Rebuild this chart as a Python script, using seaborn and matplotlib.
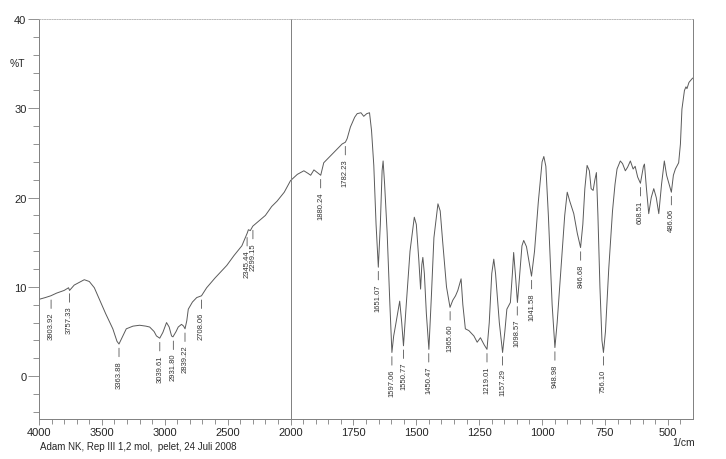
import numpy as np
import pandas as pd
import matplotlib
matplotlib.use("Agg")
import matplotlib.pyplot as plt
from matplotlib.ticker import FixedLocator
import seaborn as sns

# wavenumber (1/cm) and transmittance (%T)
wavenumber = [
    4000, 3950, 3906, 3860, 3800, 3765, 3757, 3720, 3680, 3640, 3600, 3560,
    3520, 3470, 3413, 3380, 3364, 3340, 3306, 3253, 3200, 3150, 3120, 3085,
    3066, 3040, 3015, 2986, 2965, 2946, 2935, 2910, 2893, 2867, 2850, 2839,
    2825, 2813, 2780, 2746, 2708, 2667, 2600, 2507, 2450, 2387, 2360, 2345,
    2335, 2320, 2300, 2250, 2200, 2150, 2107, 2050, 2000, 1973, 1947, 1930,
    1920, 1907, 1880, 1868, 1840, 1815, 1795, 1782, 1775, 1762, 1745, 1735,
    1720, 1709, 1697, 1686, 1678, 1669, 1660, 1651, 1643, 1636, 1632, 1626,
    1616, 1605, 1597, 1590, 1583, 1566, 1558, 1551, 1540, 1525, 1508, 1500,
    1490, 1483, 1478, 1474, 1468, 1460, 1450, 1440, 1430, 1414, 1405, 1395,
    1380, 1366, 1355, 1344, 1335, 1322, 1315, 1305, 1291, 1271, 1258, 1245,
    1230, 1219, 1210, 1200, 1192, 1185, 1170, 1157, 1148, 1140, 1126, 1118,
    1113, 1105, 1098, 1090, 1080, 1073, 1062, 1050, 1042, 1030, 1015, 1000,
    993, 985, 975, 960, 949, 940, 925, 910, 900, 890, 874, 860,
    847, 838, 830, 821, 812, 805, 797, 790, 784, 778, 770, 762,
    756, 748, 735, 720, 710, 702, 689, 680, 669, 660, 649, 638,
    630, 620, 609, 597, 593, 585, 576, 566, 556, 546, 536, 525,
    514, 505, 486, 478, 470, 457, 450, 444, 434, 428, 424, 416,
    410, 404, 400,
]
transmittance = [
    8.6, 8.8, 9.0, 9.3, 9.6, 9.9, 9.6, 10.2, 10.5, 10.8, 10.6, 9.9,
    8.6, 7.0, 5.3, 3.9, 3.6, 4.3, 5.3, 5.6, 5.7, 5.6, 5.5, 5.0,
    4.5, 4.25, 4.9, 6.0, 5.5, 4.5, 4.4, 5.0, 5.5, 5.8, 5.6, 5.3,
    6.2, 7.5, 8.3, 8.8, 9.0, 9.9, 11.0, 12.4, 13.5, 14.6, 15.5, 16.0,
    16.4, 16.3, 16.8, 17.4, 18.0, 19.0, 19.6, 20.6, 21.9, 22.6, 23.0, 22.7,
    22.5, 23.1, 22.5, 23.9, 24.7, 25.4, 26.0, 26.2, 26.6, 27.9, 29.0, 29.4,
    29.5, 29.1, 29.4, 29.5, 27.5, 23.6, 17.0, 12.2, 17.0, 23.0, 24.1, 21.5,
    16.1, 8.0, 2.65, 4.5, 5.6, 8.4, 6.0, 3.4, 8.0, 14.0, 17.8, 17.0,
    13.0, 9.75, 12.5, 13.3, 11.5, 7.0, 3.0, 9.0, 15.5, 19.3, 18.5, 15.0,
    10.0, 7.7, 8.5, 9.0, 9.6, 10.9, 8.0, 5.3, 5.1, 4.5, 3.8, 4.3,
    3.5, 3.0, 6.0, 11.5, 13.1, 11.5, 6.0, 2.65, 5.0, 7.5, 8.25, 11.5,
    13.85, 11.0, 8.25, 11.0, 14.6, 15.2, 14.5, 12.5, 11.2, 14.0, 19.5, 24.0,
    24.6, 23.5, 18.0, 8.0, 3.2, 6.0, 12.0, 18.0, 20.6, 19.6, 18.2, 16.0,
    14.4, 17.0, 21.0, 23.6, 23.0, 21.0, 20.8, 22.0, 22.8, 18.0, 10.0, 4.0,
    2.65, 5.0, 12.0, 18.5, 21.5, 23.2, 24.1, 23.8, 23.0, 23.4, 24.1, 23.2,
    23.5, 22.3, 21.6, 23.5, 23.75, 21.0, 18.2, 20.0, 21.0, 20.0, 18.2, 21.5,
    24.1, 22.5, 20.6, 22.5, 23.2, 23.9, 26.0, 29.9, 32.0, 32.4, 32.2, 32.9,
    33.1, 33.3, 33.4,
]

# labelled peaks
peak_labels = [
    "3903.92", "3757.33", "3363.88", "3039.61", "2931.80", "2839.22",
    "2708.06", "2345.44", "2299.15", "1880.24", "1782.23", "1651.07",
    "1597.06", "1550.77", "1450.47", "1365.60", "1219.01", "1157.29",
    "1098.57", "1041.58", "948.98", "846.68", "756.10", "608.51", "486.06",
]
peak_t = [
    9.0, 9.7, 3.6, 4.25, 4.4, 5.3,
    9.0, 16.0, 16.8, 22.5, 26.2, 12.2,
    2.65, 3.4, 3.0, 7.7, 3.0, 2.65,
    8.25, 11.2, 3.2, 14.4, 2.65, 21.6, 20.6,
]

x_ticks = [4000, 3500, 3000, 2500, 2000, 1750, 1500, 1250, 1000, 750, 500]
y_ticks = [0, 10, 20, 30, 40]

df = pd.DataFrame({"wn": wavenumber, "T": transmittance})

sns.set_style("ticks")
plt.rcParams["font.family"] = ["Liberation Sans", "DejaVu Sans"]

line_col = "#5a5a5a"
axis_col = "#808080"

fig = plt.figure(figsize=(7.26, 4.6), dpi=100)
ax = fig.add_axes([39 / 726, 1 - 420 / 460, (693 - 39) / 726, 400 / 460])


# the scan uses half scale above 2000 1/cm
def fwd(w):
    w = np.asarray(w, dtype=float)
    return np.where(w > 2000, 2000 + (w - 2000) / 2, w)


def inv(u):
    u = np.asarray(u, dtype=float)
    return np.where(u > 2000, 2000 + (u - 2000) * 2, u)


ax.set_xscale("function", functions=(fwd, inv))

sns.lineplot(data=df, x="wn", y="T", ax=ax, color=line_col, lw=0.7,
             estimator=None, sort=False)

ax.set_xlim(4000, 400)
ax.set_ylim(-4.8, 40)

ax.xaxis.set_major_locator(FixedLocator(x_ticks))
minor_x = [v for v in list(np.arange(3900, 2000, -100)) + list(np.arange(1950, 400, -50))
           if v not in x_ticks]
ax.xaxis.set_minor_locator(FixedLocator(minor_x))
ax.set_xticklabels([str(v) for v in x_ticks])
ax.yaxis.set_major_locator(FixedLocator(y_ticks))
ax.yaxis.set_minor_locator(FixedLocator([v for v in np.arange(-4, 40, 2) if v % 10 != 0]))

ax.tick_params(axis="x", which="major", length=4.5, width=0.6, color=axis_col,
               labelsize=8, pad=1)
ax.tick_params(axis="x", which="minor", length=3.5, width=0.6, color=axis_col)
ax.tick_params(axis="y", which="major", length=8, width=0.6, color=axis_col,
               labelsize=8, pad=1)
ax.tick_params(axis="y", which="minor", length=4, width=0.6, color=axis_col)

for s in ["left", "bottom", "right"]:
    ax.spines[s].set_color(axis_col)
    ax.spines[s].set_linewidth(0.7)
ax.spines["top"].set_color("#b0b0b0")
ax.spines["top"].set_linewidth(0.6)
ax.spines["top"].set_linestyle((0, (1.5, 1.5)))

ax.axvline(2000, color=axis_col, lw=0.7)
ax.set_xlabel("")
ax.set_ylabel("")

for lbl, t in zip(peak_labels, peak_t):
    ax.annotate(lbl, xy=(float(lbl), t), xytext=(0, -11.5),
                textcoords="offset points", rotation=90, ha="center", va="top",
                fontsize=5.5, color="#333333",
                arrowprops=dict(arrowstyle="-", lw=0.6, color="#555555",
                                shrinkA=0, shrinkB=3))

fig.text(17 / 726, 1 - 64 / 460, "%T", ha="center", va="center", fontsize=7.5)
fig.text(695 / 726, 1 - 443 / 460, "1/cm", ha="right", va="center", fontsize=7.5)
fig.text(40 / 726, 1 - 447 / 460, "Adam NK, Rep III 1,2 mol,  pelet, 24 Juli 2008",
         ha="left", va="center", fontsize=7)

fig.savefig("out.png", dpi=100)
